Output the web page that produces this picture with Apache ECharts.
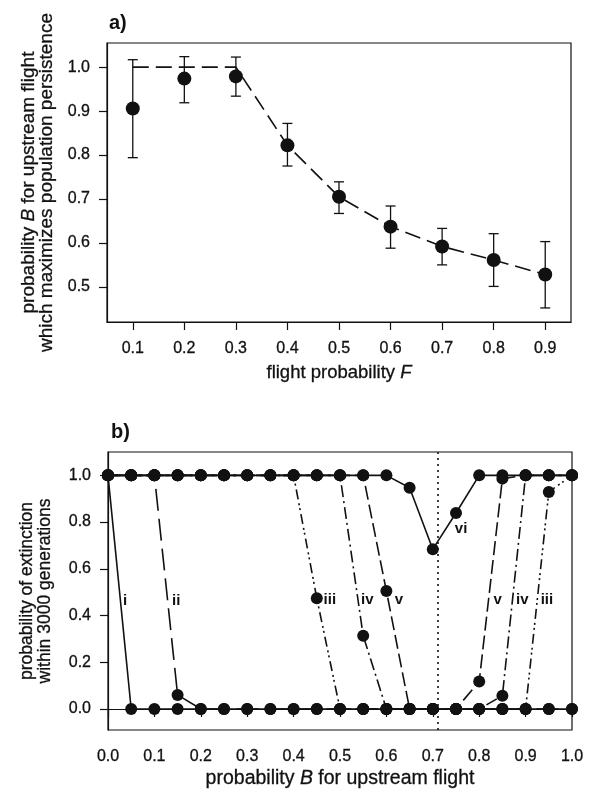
<!DOCTYPE html>
<html>
<head>
<meta charset="utf-8">
<script src="https://cdn.jsdelivr.net/npm/echarts@6/dist/echarts.min.js"></script>
<style>
  html, body { margin: 0; padding: 0; background: #fff; }
  #chart { width: 590px; height: 794px; }
</style>
</head>
<body>
<div id="chart"></div>
<script>
  // a) best upstream-flight probability B against flight probability F
  const flightF = [0.1, 0.2, 0.3, 0.4, 0.5, 0.6, 0.7, 0.8, 0.9];
  const bestB = [0.906, 0.974, 0.979, 0.822, 0.705, 0.637, 0.592, 0.561, 0.528];
  const bestBLow = [0.794, 0.919, 0.934, 0.775, 0.667, 0.588, 0.550, 0.501, 0.452];
  const bestBHigh = [1.017, 1.024, 1.023, 0.872, 0.739, 0.684, 0.633, 0.621, 0.603];
  const bestBCurve = [1.0, 1.0, 1.0, 0.822, 0.705, 0.637, 0.592, 0.561, 0.528];
  const ticksAY = [0.5, 0.6, 0.7, 0.8, 0.9, 1.0];

  // b) extinction probability against B, curves i..vi
  const upstreamB = [0, 0.05, 0.1, 0.15, 0.2, 0.25, 0.3, 0.35, 0.4, 0.45, 0.5,
    0.55, 0.6, 0.65, 0.7, 0.75, 0.8, 0.85, 0.9, 0.95, 1.0];
  const extI   = [1, 0, 0, 0, 0, 0, 0, 0, 0, 0, 0, 0, 0, 0, 0, 0, 0, 0, 0, 0, 0];
  const extII  = [1, 1, 1, 0.06, 0, 0, 0, 0, 0, 0, 0, 0, 0, 0, 0, 0, 0, 0, 0, 0, 0];
  const extIII = [1, 1, 1, 1, 1, 1, 1, 1, 1, 0.474, 0, 0, 0, 0, 0, 0, 0, 0, 0, 0.929, 1];
  const extIV  = [1, 1, 1, 1, 1, 1, 1, 1, 1, 1, 1, 0.313, 0, 0, 0, 0, 0, 0.057, 1, 1, 1];
  const extV   = [1, 1, 1, 1, 1, 1, 1, 1, 1, 1, 1, 1, 0.505, 0, 0, 0, 0.118, 0.986, 1, 1, 1];
  const extVI  = [1, 1, 1, 1, 1, 1, 1, 1, 1, 1, 1, 1, 1, 0.947, 0.684, 0.839, 1, 1, 1, 1, 1];
  const ticksBY = [0, 0.2, 0.4, 0.6, 0.8, 1.0];
  const thresholdB = 0.707;
  // curve names and where they sit on panel b
  const curveLabels = [
    ['i', 0.037, 0.462], ['ii', 0.147, 0.462], ['iii', 0.478, 0.467],
    ['iv', 0.559, 0.467], ['v', 0.627, 0.467], ['v', 0.84, 0.467],
    ['iv', 0.893, 0.467], ['iii', 0.946, 0.467], ['vi', 0.761, 0.773]
  ];

  const FONT = '"Liberation Sans", Arial, sans-serif';
  const INK = '#111';
  // scanned print looks a bit heavier than the plain face
  const HEAVY = { textBorderColor: INK, textBorderWidth: 0.3 };

  const chart = echarts.init(document.getElementById('chart'));

  const pair = (xs, ys) => xs.map((x, i) => [x, ys[i]]);

  function axisBase(nameSize, ticks, labelMargin) {
    const base = {
      axisLine: { show: true, lineStyle: { color: INK, width: 1.2 } },
      axisTick: { show: true, length: 8, lineStyle: { color: INK, width: 1.2 } },
      axisLabel: Object.assign({ color: INK, fontSize: 16, fontFamily: FONT, margin: labelMargin,
        formatter: v => v.toFixed(1) }, HEAVY),
      splitLine: { show: false },
      nameLocation: 'middle',
      nameTextStyle: Object.assign({ color: INK, fontSize: nameSize, fontFamily: FONT,
        lineHeight: 18,
        rich: { i: Object.assign({ fontStyle: 'italic', fontSize: nameSize, fontFamily: FONT, color: INK }, HEAVY) }
      }, HEAVY)
    };
    if (ticks) {
      base.axisTick.customValues = ticks;
      base.axisLabel.customValues = ticks;
    }
    return base;
  }

  function curve(name, ys, dash) {
    return {
      name: name,
      type: 'line',
      xAxisIndex: 1,
      yAxisIndex: 1,
      data: pair(upstreamB, ys),
      symbol: 'circle',
      symbolSize: 12,
      itemStyle: { color: INK, opacity: 1 },
      lineStyle: { color: INK, width: 1.6, type: dash },
      animation: false
    };
  }

  const titleStyle = { fontSize: 20, fontWeight: 'bold', fontFamily: FONT, color: INK };

  chart.setOption({
    backgroundColor: '#fff',
    animation: false,
    title: [
      { text: 'a)', left: 104, top: 8, textStyle: titleStyle },
      { text: 'b)', left: 106, top: 417, textStyle: titleStyle }
    ],
    grid: [
      { left: 107, right: 19, top: 43, height: 279, show: true, borderColor: INK, borderWidth: 1.2 },
      { left: 108, right: 18, top: 452, height: 278, show: true, borderColor: INK, borderWidth: 1.2 }
    ],
    xAxis: [
      Object.assign(axisBase(18.5, flightF, 19), {
        gridIndex: 0, type: 'value', min: 0.05, max: 0.95,
        name: 'flight probability {i|F}', nameGap: 42
      }),
      Object.assign(axisBase(19.5, null, 19), {
        gridIndex: 1, type: 'value', min: 0, max: 1, interval: 0.1,
        name: 'probability {i|B} for upstream flight', nameGap: 40
      })
    ],
    yAxis: [
      Object.assign(axisBase(19, ticksAY, 17), {
        gridIndex: 0, type: 'value', min: 0.42, max: 1.055,
        name: 'probability {i|B} for upstream flight\nwhich maximizes population persistence',
        nameGap: 50
      }),
      Object.assign(axisBase(17.5, ticksBY, 17), {
        gridIndex: 1, type: 'value', min: -0.09, max: 1.1,
        name: 'probability of extinction\nwithin 3000 generations',
        nameGap: 54
      })
    ],
    series: [
      // error bars
      {
        type: 'custom',
        xAxisIndex: 0,
        yAxisIndex: 0,
        data: flightF.map((f, i) => [f, bestBLow[i], bestBHigh[i]]),
        encode: { x: 0, y: [1, 2] },
        renderItem(params, api) {
          const x = api.value(0);
          const lo = api.coord([x, api.value(1)]);
          const hi = api.coord([x, api.value(2)]);
          const w = 5;
          const style = { stroke: INK, lineWidth: 1.3 };
          return {
            type: 'group',
            children: [
              { type: 'line', shape: { x1: lo[0], y1: lo[1], x2: hi[0], y2: hi[1] }, style },
              { type: 'line', shape: { x1: lo[0] - w, y1: lo[1], x2: lo[0] + w, y2: lo[1] }, style },
              { type: 'line', shape: { x1: hi[0] - w, y1: hi[1], x2: hi[0] + w, y2: hi[1] }, style }
            ]
          };
        }
      },
      // dashed trend
      {
        type: 'line',
        xAxisIndex: 0,
        yAxisIndex: 0,
        data: pair(flightF, bestBCurve),
        showSymbol: false,
        lineStyle: { color: INK, width: 1.6, type: [16, 7] }
      },
      // means
      {
        type: 'scatter',
        xAxisIndex: 0,
        yAxisIndex: 0,
        data: pair(flightF, bestB),
        symbolSize: 14,
        itemStyle: { color: INK, opacity: 1 },
        z: 5
      },

      curve('i', extI, 'solid'),
      curve('vi', extVI, 'solid'),
      curve('ii', extII, [22, 8]),
      curve('v', extV, [14, 5]),
      curve('iv', extIV, [12, 4, 2, 4]),
      curve('iii', extIII, [10, 4, 2, 3, 2, 4]),

      // dotted reference line + curve names
      {
        type: 'scatter',
        xAxisIndex: 1,
        yAxisIndex: 1,
        data: curveLabels.map(d => [d[1], d[2], d[0]]),
        symbolSize: 0,
        itemStyle: { opacity: 1 },
        label: {
          show: true,
          position: 'inside',
          formatter: p => p.value[2],
          color: INK,
          fontSize: 15,
          fontWeight: 'bold',
          fontFamily: FONT
        },
        markLine: {
          silent: true,
          symbol: 'none',
          label: { show: false },
          lineStyle: { color: INK, width: 1.6, type: [2, 4] },
          data: [{ xAxis: thresholdB }]
        },
        z: 6
      }
    ]
  });
</script>
</body>
</html>
